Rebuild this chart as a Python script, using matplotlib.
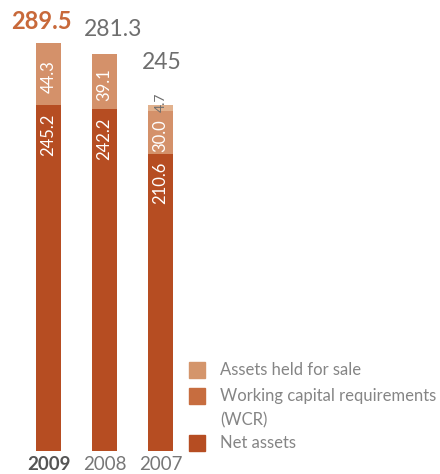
import numpy as np
import matplotlib
matplotlib.use('Agg')
from matplotlib import pyplot as plt
from matplotlib.patches import Rectangle

years = ['2009', '2008', '2007']
net_assets = [245.2, 242.2, 210.6]
wcr = [44.3, 39.1, 30.0]
held_for_sale = [0.0, 0.0, 4.7]
totals = ['289.5', '281.3', '245']
legend_labels = ['Assets held for sale', 'Working capital requirements\n(WCR)', 'Net assets']

plt.rcParams['font.family'] = ['Lato', 'DejaVu Sans']

c_net = '#b64d22'
c_wcr_bar = '#d4916a'
c_hfs_bar = '#e2b28e'
c_wcr_leg = '#c76d3f'
c_hfs_leg = '#d4956b'
grey = '#6e6e6e'

fig = plt.figure(figsize=(4.4, 4.74), dpi=100)
# y=0 at 23.3 px from bottom, 1.41 px per unit
ax = fig.add_axes([0, 23.3 / 474, 1, 423 / 474])
ax.set_ylim(0, 300)
ax.set_xlim(-48.5 / 56, (440 - 48.5) / 56)

index = np.arange(len(years))
w = 25 / 56
net = np.array(net_assets)
wc = np.array(wcr)
hf = np.array(held_for_sale)

ax.bar(index, net, w, color=c_net)
ax.bar(index, wc, w, bottom=net, color=c_wcr_bar)
ax.bar(index, hf, w, bottom=net + wc, color=c_hfs_bar)

for i in index:
    ax.annotate(f'{net[i]:.1f}', (i, net[i]), xytext=(0, -6), textcoords='offset points',
                rotation=90, ha='center', va='top', color='white', fontsize=12)
    ax.text(i, net[i] + wc[i] / 2 - 2, f'{wc[i]:.1f}', rotation=90, ha='center',
            va='center', color='white', fontsize=12)
    if hf[i] > 0:
        ax.annotate(f'{hf[i]:.1f}', (i, net[i] + wc[i] + hf[i]), xytext=(0, 2),
                    textcoords='offset points', rotation=90, ha='center', va='center',
                    color=grey, fontsize=10)

tot = net + wc + hf
offs = [(-5, 7), (6, 10), (1, 23)]
for i in index:
    if i == 0:
        kw = dict(color='#c8693a', fontweight='bold', fontsize=17)
    else:
        kw = dict(color=grey, fontsize=16.5)
    ax.annotate(totals[i], (i, tot[i]), xytext=offs[i], textcoords='offset points',
                ha='center', va='bottom', annotation_clip=False, **kw)

ax.set_xticks(index)
ax.set_xticklabels(years, fontsize=13.5, color='#777777')
ax.get_xticklabels()[0].set_fontweight('bold')
ax.get_xticklabels()[0].set_color('#555555')
ax.tick_params(axis='x', length=0, pad=4)
ax.set_yticks([])
for s in ax.spines.values():
    s.set_visible(False)

# legend drawn by hand, handle aligned with first line of each label
leg_colors = [c_hfs_leg, c_wcr_leg, c_net]
leg_rows = [370, 396, 443]  # pixel centres from top
for col, lab, yc in zip(leg_colors, legend_labels, leg_rows):
    fig.patches.append(Rectangle((189 / 440, (474 - yc - 8) / 474), 16 / 440, 16 / 474,
                                 transform=fig.transFigure, color=col))
    fig.text(220 / 440, (474 - yc + 8) / 474, lab, ha='left', va='top', fontsize=12,
             color='#858585', linespacing=1.65)

fig.savefig('out.png', dpi=100)
